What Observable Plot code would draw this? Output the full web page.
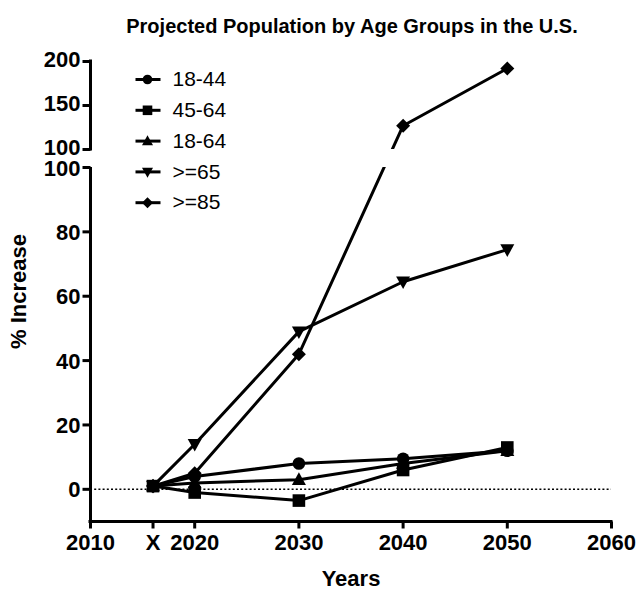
<!DOCTYPE html>
<html>
<head>
<meta charset="utf-8">
<script src="https://cdn.jsdelivr.net/npm/d3@7"></script>
<script src="https://cdn.jsdelivr.net/npm/@observablehq/plot@0.6"></script>
<style>
  body { margin: 0; background: #fff; }
  #chart { width: 637px; height: 592px; }
</style>
</head>
<body>
<div id="chart"></div>
<script>
// ---- data ----
const titleText = "Projected Population by Age Groups in the U.S.";
const xLabel = "Years";
const yLabel = "% Increase";
const years = [2016, 2020, 2030, 2040, 2050];
const seriesNames = ["18-44", "45-64", "18-64", ">=65", ">=85"];
const v1844 = [1, 4, 8, 9.5, 12];
const v4564 = [1, -1, -3.5, 6, 13];
const v1864 = [1, 2, 3, 8, 12];
const v65 = [1, 14, 49, 64.5, 74.5];
const v85 = [1, 5, 42, 127, 192];
const xTicks = [2010, 2016, 2020, 2030, 2040, 2050, 2060];
const xTickLabels = ["2010", "X", "2020", "2030", "2040", "2050", "2060"];
const yTicksLower = [0, 20, 40, 60, 80, 100];
const yTicksUpper = [100, 150, 200];

// ---- build ----
const seriesValues = [v1844, v4564, v1864, v65, v85];
const rows = seriesNames.flatMap((s, i) =>
  years.map((yr, j) => ({series: s, year: yr, value: seriesValues[i][j]})));

const xMin = 2010, xMax = 2060, yMin = -10, yMax = 200;
const breakLo = 100, breakHi = 100.0001; // axis break: lower segment top / upper segment bottom

const half = size => Math.sqrt(size / Math.PI);
const symSquare = {draw(c, size) { const r = half(size); c.rect(-r, -r, 2 * r, 2 * r); }};
const symTriUp = {draw(c, size) { const r = half(size); c.moveTo(0, -r * 1.05); c.lineTo(r, r * 0.75); c.lineTo(-r, r * 0.75); c.closePath(); }};
const symTriDown = {draw(c, size) { const r = half(size); c.moveTo(0, r * 1.05); c.lineTo(r, -r * 0.75); c.lineTo(-r, -r * 0.75); c.closePath(); }};
const symDiamond = {draw(c, size) { const r = half(size); c.moveTo(0, -r); c.lineTo(r, 0); c.lineTo(0, r); c.lineTo(-r, 0); c.closePath(); }};
const symCircle = {draw(c, size) { const r = half(size); c.moveTo(r, 0); c.arc(0, 0, r, 0, 2 * Math.PI); }};
const symbols = [symCircle, symSquare, symTriUp, symTriDown, symDiamond];
const markerR = [6.3, 6.3, 7, 7, 7];
const legendR = [4.8, 4.8, 5.5, 5.5, 5.5];

const hTick = {draw(c) { c.moveTo(-8, 0); c.lineTo(0, 0); }};
const vTick = {draw(c) { c.moveTo(0, 0); c.lineTo(0, 7); }};
const legendLine = {draw(c) { c.moveTo(-12, 0); c.lineTo(13, 0); }};

const font = "'Liberation Sans', Arial, Helvetica, sans-serif";
const boldText = {fontFamily: font, fontWeight: "bold", fontSize: 22, fill: "black", lineAnchor: "middle"};
const upperLabelY = d => (d === breakLo ? breakHi : d);

const marks = [
  // zero reference line
  Plot.ruleY([0], {x1: xMin, x2: xMax, stroke: "black", strokeWidth: 1.6, strokeDasharray: "2,2.2"}),
  // data lines
  Plot.line(rows, {x: "year", y: "value", z: "series", stroke: "black", strokeWidth: 3, strokeLinejoin: "round"}),
  // hide the lines inside the axis break
  Plot.rect([0], {x1: 2021, x2: xMax, y1: breakLo, y2: breakHi, fill: "white"}),
  // markers
  ...seriesNames.map((s, i) => Plot.dot(rows.filter(d => d.series === s),
    {x: "year", y: "value", symbol: symbols[i], r: markerR[i], fill: "black", stroke: "none"})),
  // y axis (two segments)
  Plot.ruleX([xMin], {y1: yMin, y2: breakLo, stroke: "black", strokeWidth: 3}),
  Plot.ruleX([xMin], {y1: breakHi, y2: yMax, stroke: "black", strokeWidth: 3, strokeLinecap: "square"}),
  Plot.dot(yTicksLower, {x: xMin, y: d => d, symbol: hTick, fill: "none", stroke: "black", strokeWidth: 3}),
  Plot.dot(yTicksUpper, {x: xMin, y: upperLabelY, symbol: hTick, fill: "none", stroke: "black", strokeWidth: 3}),
  Plot.text(yTicksLower, {x: xMin, y: d => d, text: d => String(d), textAnchor: "end", dx: -10, dy: 1, ...boldText}),
  Plot.text(yTicksUpper, {x: xMin, y: upperLabelY, text: d => String(d), textAnchor: "end", dx: -10, dy: -2, ...boldText}),
  // x axis
  Plot.ruleY([yMin], {x1: xMin, x2: xMax, stroke: "black", strokeWidth: 3, strokeLinecap: "square"}),
  Plot.dot(xTicks, {x: d => d, y: yMin, symbol: vTick, fill: "none", stroke: "black", strokeWidth: 3}),
  Plot.text(xTicks, {x: d => d, y: yMin, text: (d, i) => xTickLabels[i], dy: 21, ...boldText}),
  // axis titles and chart title
  Plot.text([xLabel], {frameAnchor: "bottom", text: d => d, dy: 57, textAnchor: "middle", ...boldText}),
  Plot.text([yLabel], {frameAnchor: "left", text: d => d, rotate: -90, dx: -72, textAnchor: "middle", ...boldText}),
  Plot.text([titleText], {frameAnchor: "top", text: d => d, dx: 1, dy: -35, textAnchor: "middle", lineAnchor: "middle",
    fontFamily: font, fontWeight: "bold", fontSize: 20, fill: "black"}),
  // legend
  ...seriesNames.flatMap((s, i) => [
    Plot.dot([s], {frameAnchor: "top-left", dx: 57, dy: 18 + i * 30.8, symbol: legendLine, fill: "none", stroke: "black", strokeWidth: 3}),
    Plot.dot([s], {frameAnchor: "top-left", dx: 57, dy: 18 + i * 30.8, symbol: symbols[i], r: legendR[i], fill: "black", stroke: "none"}),
    Plot.text([s], {frameAnchor: "top-left", dx: 82, dy: 18 + i * 30.8, text: d => d, textAnchor: "start", lineAnchor: "middle",
      fontFamily: font, fontSize: 21, fill: "black"})
  ])
];

const chart = Plot.plot({
  width: 637,
  height: 592,
  marginTop: 61,
  marginBottom: 71,
  marginLeft: 90,
  marginRight: 26,
  style: {fontFamily: font, background: "white"},
  x: {type: "linear", domain: [xMin, xMax], range: [90, 611], axis: null},
  y: {type: "linear", domain: [yMin, breakLo, breakHi, yMax], range: [521, 167, 149, 61], axis: null},
  marks
});
document.getElementById("chart").appendChild(chart);
</script>
</body>
</html>
